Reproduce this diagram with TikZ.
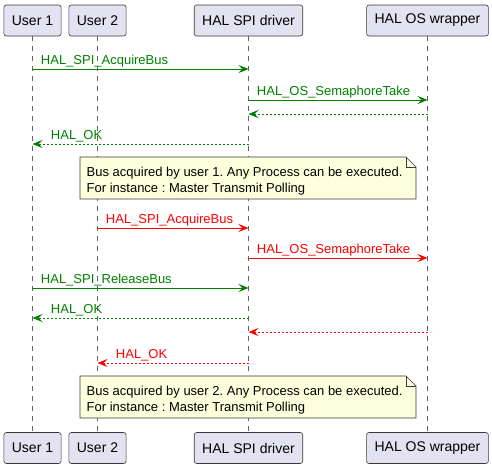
\documentclass[tikz,border=0pt]{standalone}
\usepackage{fontspec}
\setmainfont{Liberation Sans}
\usetikzlibrary{arrows.meta}
\usetikzlibrary{positioning}
\frenchspacing

\definecolor{umlgreen}{HTML}{008000}
\definecolor{umlred}{HTML}{FF0000}
\definecolor{partfill}{HTML}{E2E2F0}
\definecolor{notefill}{HTML}{FEFFDD}
\definecolor{linegray}{HTML}{3A3A3A}

\tikzset{
  actor/.style={draw=linegray, fill=partfill, rounded corners=2.5pt, line width=0.6pt,
    minimum height=31pt, inner xsep=8pt, font=\fontsize{14}{16}\selectfont},
  life/.style={draw=linegray!80, line width=0.5pt, dash pattern=on 5pt off 5pt},
  msg/.style={line width=0.9pt, -{Stealth[length=10pt,width=8pt,inset=4pt]}},
  ret/.style={msg, dash pattern=on 2pt off 2pt},
  lbl/.style={font=\fontsize{13}{15}\selectfont, inner sep=0pt, anchor=base west},
  notebox/.style={draw=linegray, fill=notefill, line width=0.6pt},
  notetext/.style={font=\fontsize{13}{16.2}\selectfont, inner sep=0pt, anchor=north west, align=left},
}

\begin{document}
\begin{tikzpicture}[x=1pt, y=-1pt]
  \useasboundingbox (0,0) rectangle (492,469);

  % participants, top row
  \node[actor] (u1) at (32.5,20.5) {User 1};
  \node[actor] (u2) at (97.5,20.5) {User 2};
  \node[actor] (spi) at (248.5,20.5) {HAL SPI driver};
  \node[actor] (os) at (427.5,20.5) {HAL OS wrapper};

  % participants, bottom row
  \node[actor] (u1-b) at (32.5,448) {User 1};
  \node[actor] (u2-b) at (97.5,448) {User 2};
  \node[actor] (spi-b) at (248.5,448) {HAL SPI driver};
  \node[actor] (os-b) at (427.5,448) {HAL OS wrapper};

  % lifelines
  \foreach \p in {u1,u2,spi,os} {
    \draw[life] (\p.south) -- (\p-b.north);
  }

  % user 1 takes the bus
  \draw[msg, umlgreen] (u1 |- 0,69) -- (spi |- 0,69)
    node[lbl, pos=0, xshift=8pt, yshift=4.5pt] (m1) {HAL\_SPI\_AcquireBus};
  \draw[msg, umlgreen] (spi |- 0,100) -- (os |- 0,100)
    node[lbl, pos=0, xshift=8pt, yshift=4.5pt] (m2) {HAL\_OS\_SemaphoreTake};
  \draw[ret, umlgreen] (os |- 0,114) -- (spi |- 0,114);
  \draw[ret, umlgreen] (spi |- 0,144) -- (u1 |- 0,144)
    node[lbl, pos=1, xshift=18pt, yshift=4.5pt] (m4) {HAL\_OK};

  % first note
  \draw[notebox] (80,157) -- (406,157) -- (416,167) -- (416,199) -- (80,199) -- cycle;
  \draw[notebox, fill=none] (406,157) -- (406,167) -- (416,167);
  \node[notetext] (note1) at (86.5,166.5) {Bus acquired by user 1. Any Process can be executed.\\
    For instance : Master Transmit Polling};

  % user 2 waits for the bus
  \draw[msg, umlred] (u2 |- 0,228) -- (spi |- 0,228)
    node[lbl, pos=0, xshift=8pt, yshift=4.5pt] (m6) {HAL\_SPI\_AcquireBus};
  \draw[msg, umlred] (spi |- 0,258) -- (os |- 0,258)
    node[lbl, pos=0, xshift=8pt, yshift=4.5pt] (m7) {HAL\_OS\_SemaphoreTake};

  % user 1 releases the bus
  \draw[msg, umlgreen] (u1 |- 0,288) -- (spi |- 0,288)
    node[lbl, pos=0, xshift=8pt, yshift=4.5pt] (m8) {HAL\_SPI\_ReleaseBus};
  \draw[ret, umlgreen] (spi |- 0,318) -- (u1 |- 0,318)
    node[lbl, pos=1, xshift=18pt, yshift=4.5pt] (m9) {HAL\_OK};
  \draw[ret, umlred] (os |- 0,332) -- (spi |- 0,332);
  \draw[ret, umlred] (spi |- 0,363) -- (u2 |- 0,363)
    node[lbl, pos=1, xshift=18pt, yshift=4.5pt] (m11) {HAL\_OK};

  % second note
  \draw[notebox] (80,376) -- (406,376) -- (416,386) -- (416,418) -- (80,418) -- cycle;
  \draw[notebox, fill=none] (406,376) -- (406,386) -- (416,386);
  \node[notetext] (note2) at (86.5,385.5) {Bus acquired by user 2. Any Process can be executed.\\
    For instance : Master Transmit Polling};
\end{tikzpicture}
\end{document}
